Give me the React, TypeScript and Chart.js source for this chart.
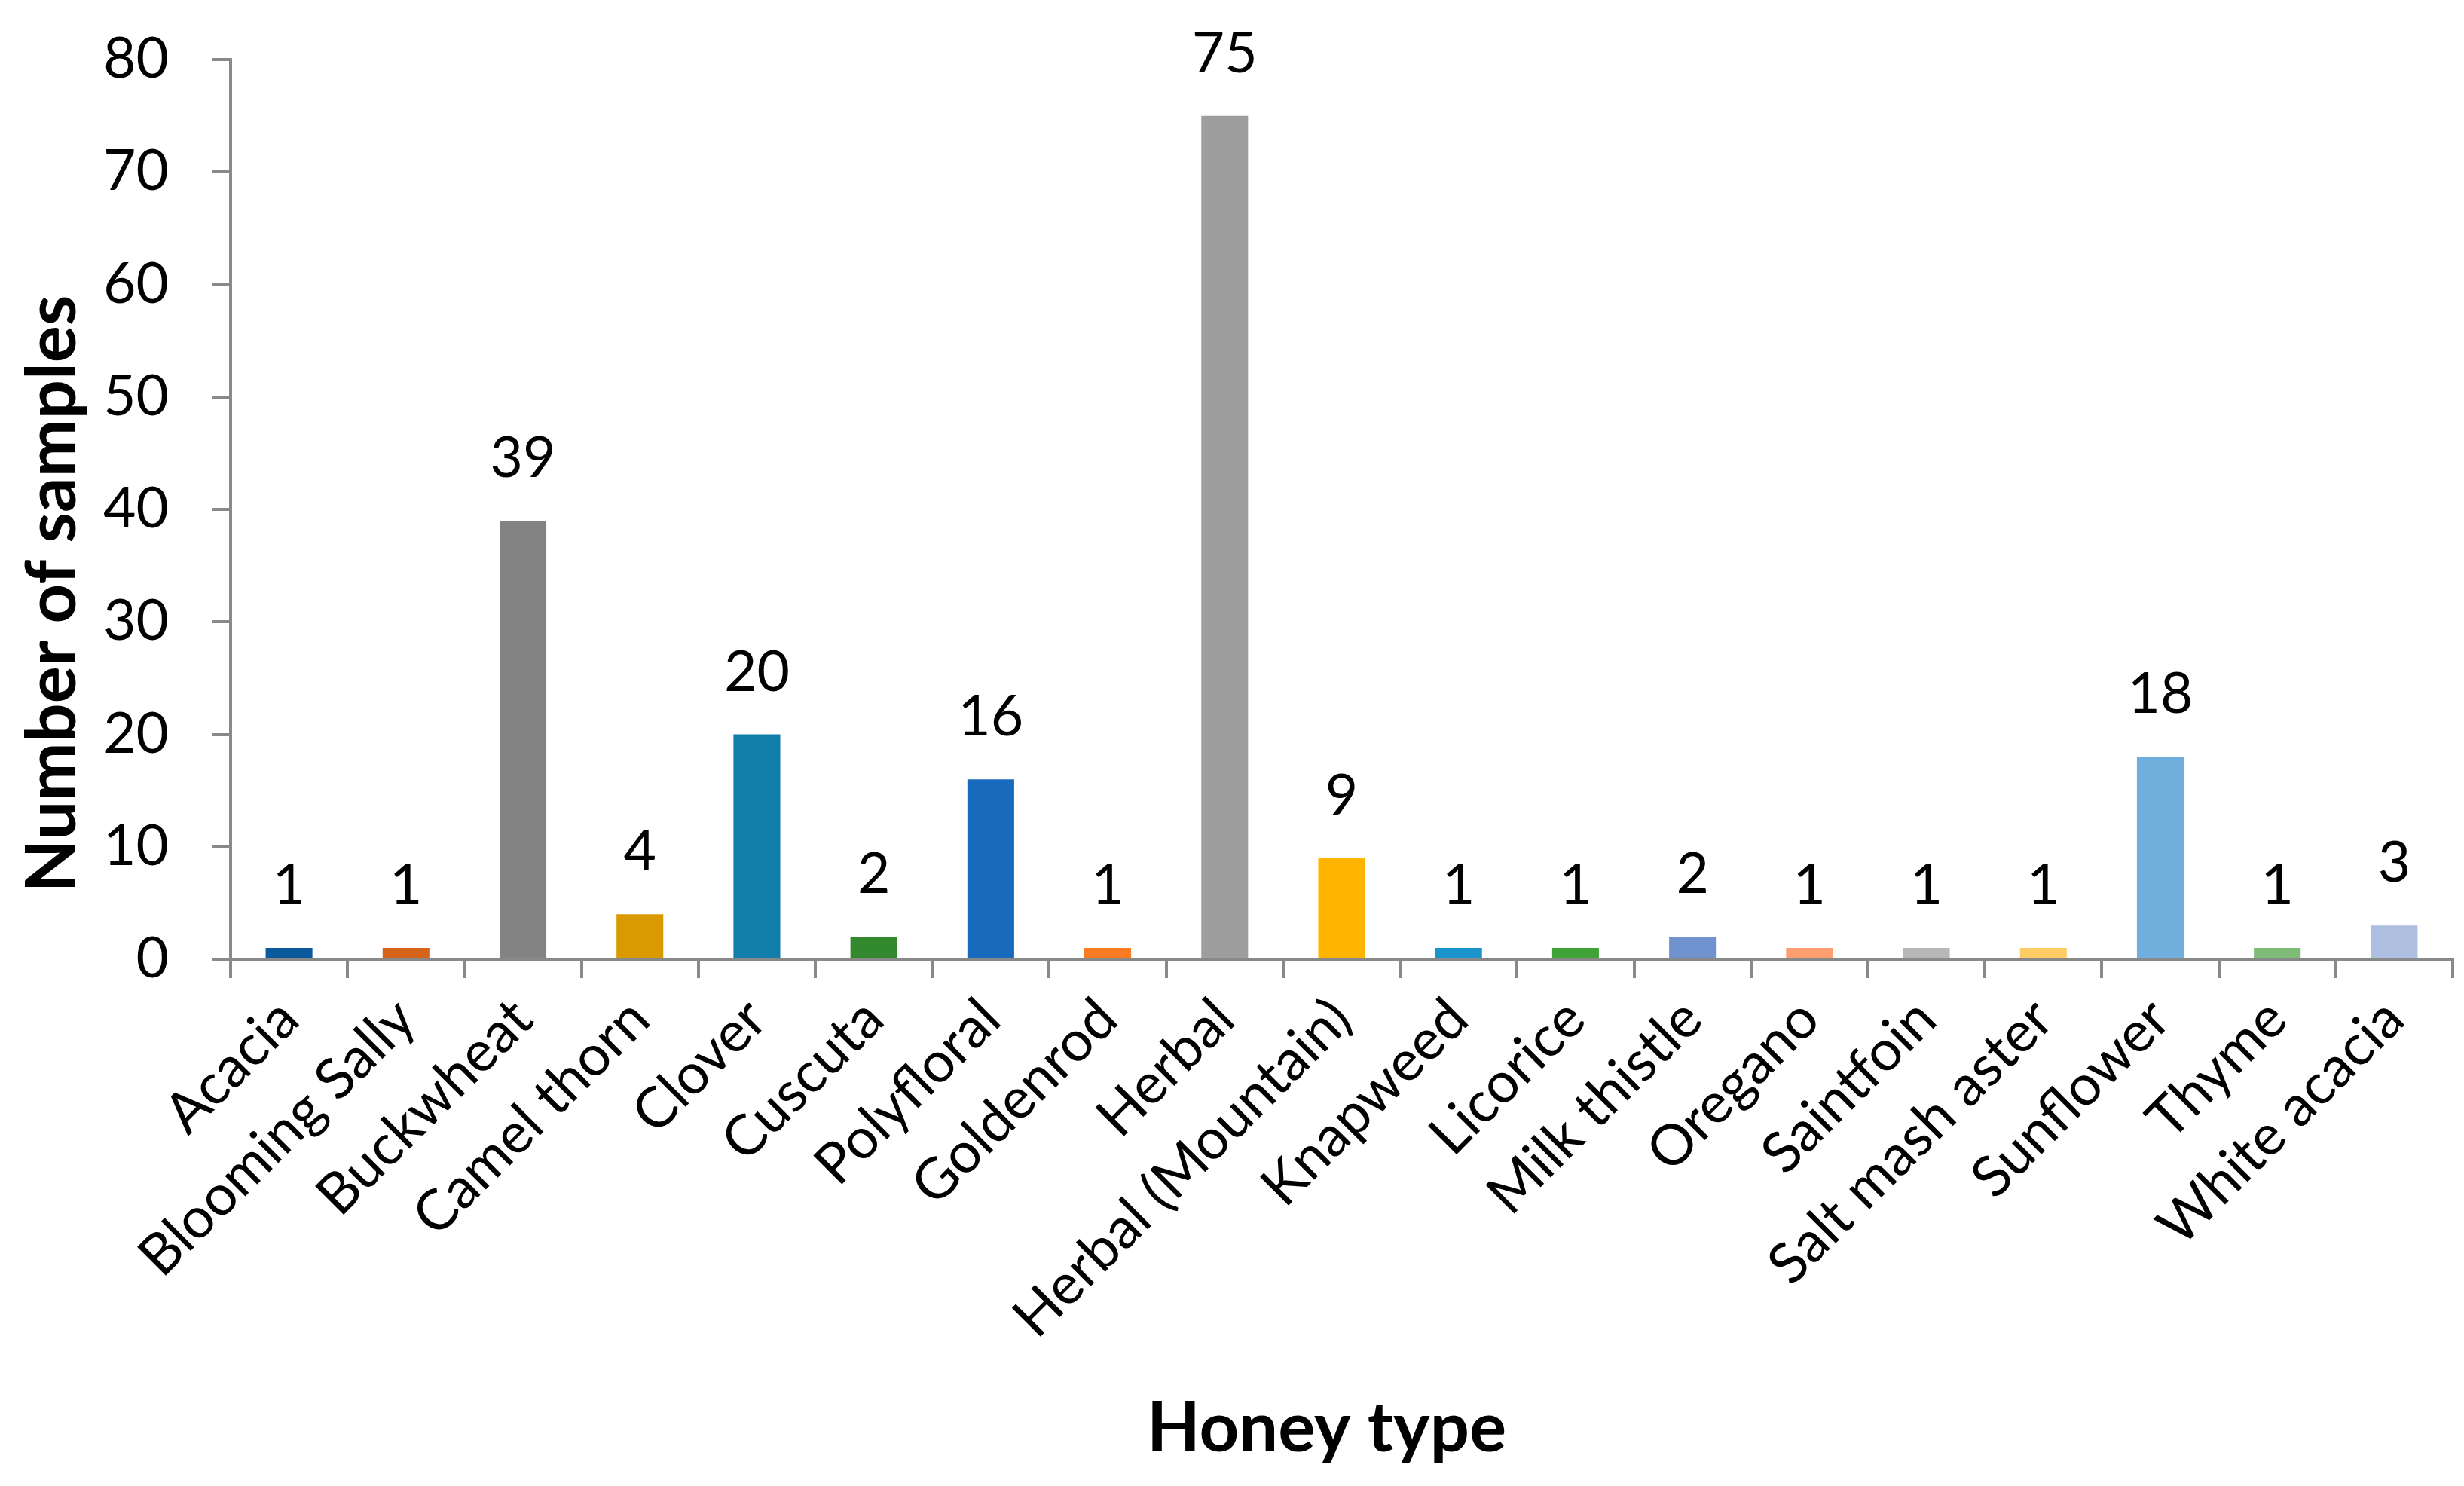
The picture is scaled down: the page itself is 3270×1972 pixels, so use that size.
import React, { useEffect, useRef } from "react";
import { Chart, registerables } from "chart.js";

Chart.register(...registerables);

const categories = [
  "Acacia",
  "Blooming Sally",
  "Buckwheat",
  "Camel thorn",
  "Clover",
  "Cuscuta",
  "Polyfloral",
  "Goldenrod",
  "Herbal",
  "Herbal (Mountain)",
  "Knapweed",
  "Licorice",
  "Milk thistle",
  "Oregano",
  "Saintfoin",
  "Salt mash aster",
  "Sunflower",
  "Thyme",
  "White acacia",
];

const sampleCounts = [1, 1, 39, 4, 20, 2, 16, 1, 75, 9, 1, 1, 2, 1, 1, 1, 18, 1, 3];

const barColors = [
  "#0B5A9E",
  "#D6651B",
  "#838383",
  "#D99A00",
  "#107DAB",
  "#33892E",
  "#176ABC",
  "#FA7B22",
  "#9E9E9E",
  "#FFB500",
  "#1B93CC",
  "#3FA336",
  "#7093D0",
  "#FF9F70",
  "#B7B7B7",
  "#FFCC66",
  "#70AEDD",
  "#7DBB77",
  "#AEBEE1",
];

const yMin = 0;
const yMax = 80;
const yStep = 10;

const xTitle = "Honey type";
const yTitle = "Number of samples";

const FONT = "Lato";
const AXIS_GRAY = "#898989";

export default function App() {
  const canvasRef = useRef<HTMLCanvasElement | null>(null);

  useEffect(() => {
    let chart: Chart | null = null;
    let cancelled = false;

    const valueLabels = {
      id: "valueLabels",
      afterDatasetsDraw(c: any) {
        const ctx = c.ctx;
        const meta = c.getDatasetMeta(0);
        ctx.save();
        ctx.fillStyle = "#000";
        ctx.font = `75px ${FONT}`;
        ctx.textAlign = "center";
        ctx.textBaseline = "alphabetic";
        meta.data.forEach((bar: any, i: number) => {
          ctx.fillText(String(sampleCounts[i]), bar.x, bar.y - 58);
        });
        ctx.restore();
      },
    };

    const axisTitles = {
      id: "axisTitles",
      afterDraw(c: any) {
        const ctx = c.ctx;
        const area = c.chartArea;
        ctx.save();
        ctx.fillStyle = "#000";
        ctx.font = `bold 92px ${FONT}`;
        ctx.textAlign = "center";
        ctx.textBaseline = "middle";
        // x title
        ctx.fillText(xTitle, (area.left + area.right) / 2 - 20, c.height - 76);
        // y title
        ctx.translate(70, (area.top + area.bottom) / 2 + 112);
        ctx.rotate(-Math.PI / 2);
        ctx.fillText(yTitle, 0, 0);
        ctx.restore();
      },
    };

    const build = () => {
      if (cancelled || !canvasRef.current) return;
      chart = new Chart(canvasRef.current, {
        type: "bar",
        data: {
          labels: categories,
          datasets: [
            {
              data: sampleCounts,
              backgroundColor: barColors,
              borderWidth: 0,
              categoryPercentage: 1,
              barPercentage: 0.4,
            },
          ],
        },
        options: {
          animation: false,
          responsive: false,
          devicePixelRatio: 1,
          layout: { padding: { left: 0, top: 79, right: 15, bottom: 0 } },
          plugins: {
            legend: { display: false },
            tooltip: { enabled: false },
            title: { display: false },
          },
          scales: {
            x: {
              grid: {
                display: true,
                drawOnChartArea: false,
                drawTicks: true,
                tickLength: 25,
                color: AXIS_GRAY,
                lineWidth: 4,
                offset: true,
              },
              border: { display: true, color: AXIS_GRAY, width: 4 },
              ticks: {
                autoSkip: false,
                minRotation: 45,
                maxRotation: 45,
                padding: 10,
                color: "#000",
                font: { family: FONT, size: 75 },
              },
              title: { display: false },
              afterFit(scale: any) {
                scale.height = 699;
              },
            },
            y: {
              min: yMin,
              max: yMax,
              grid: {
                display: true,
                drawOnChartArea: false,
                drawTicks: true,
                tickLength: 25,
                color: AXIS_GRAY,
                lineWidth: 4,
              },
              border: { display: true, color: AXIS_GRAY, width: 4 },
              ticks: {
                stepSize: yStep,
                padding: 57,
                color: "#000",
                font: { family: FONT, size: 75 },
              },
              afterFit(scale: any) {
                scale.width = 306;
                scale.paddingTop = 0;
                scale.paddingBottom = 0;
              },
            },
          },
        },
        plugins: [valueLabels, axisTitles],
      });
    };

    const fontsReady = (document as any).fonts
      ? Promise.all([
          (document as any).fonts.load(`75px ${FONT}`),
          (document as any).fonts.load(`bold 92px ${FONT}`),
        ]).catch(() => null)
      : Promise.resolve(null);
    fontsReady.then(build);

    return () => {
      cancelled = true;
      if (chart) chart.destroy();
    };
  }, []);

  return (
    <div style={{ position: "absolute", left: 0, top: 0, width: 3270, height: 1972, background: "#fff" }}>
      <canvas ref={canvasRef} width={3270} height={1972} style={{ display: "block" }} />
    </div>
  );
}
